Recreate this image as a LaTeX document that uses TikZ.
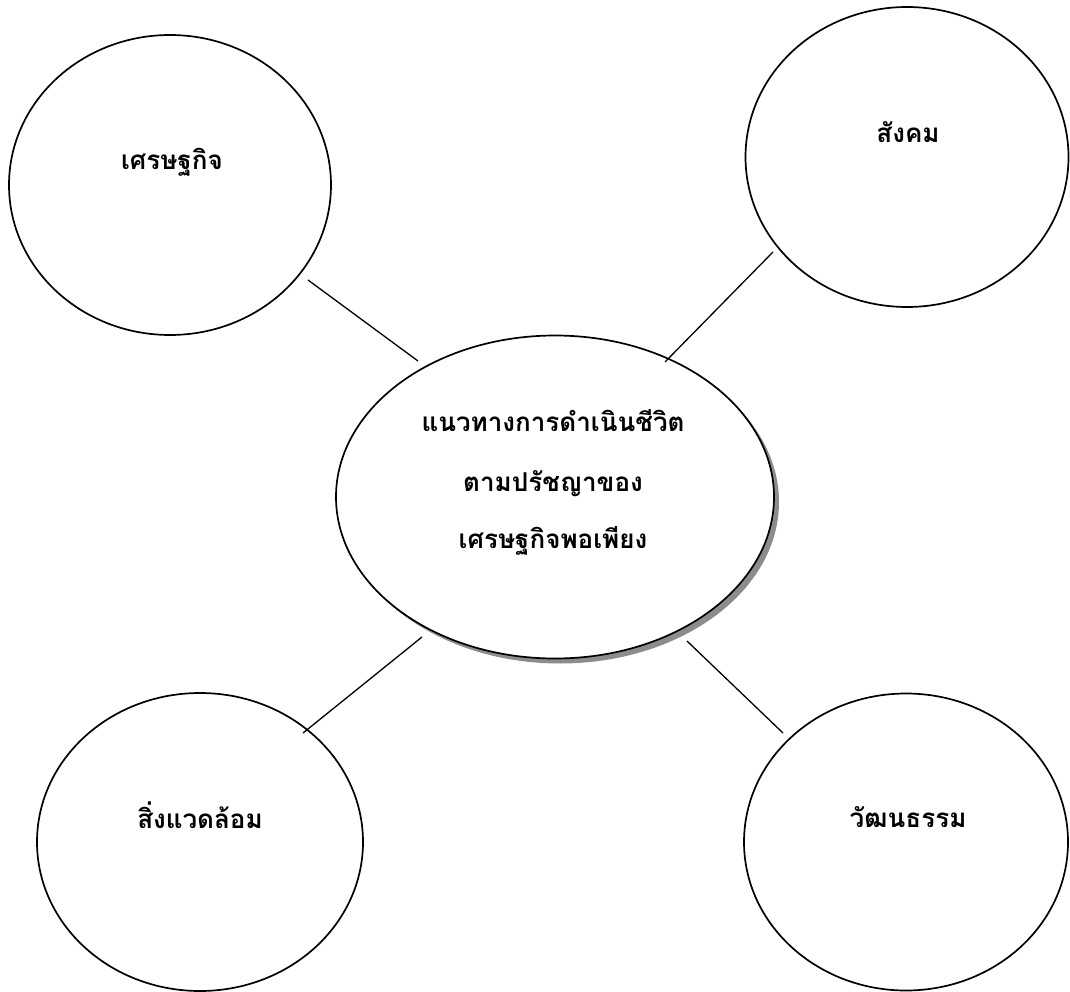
\documentclass[tikz,border=0pt]{standalone}
\usepackage{fontspec}
\newfontfamily\thaifont[Script=Thai]{Loma}
\usetikzlibrary{shapes.geometric,shadows}
\tikzset{
  bubble/.style={draw=black, line width=1.7pt, ellipse, inner sep=0pt, fill=white},
  hub/.style={bubble, drop shadow={shadow xshift=5pt, shadow yshift=-5pt, fill=black!45, opacity=1}},
  label/.style={anchor=base, inner sep=0pt, font=\thaifont\bfseries\fontsize{26}{31}\selectfont},
  link/.style={draw=black, line width=1.3pt}
}
\begin{document}
\begin{tikzpicture}[x=1pt,y=-1pt]
\useasboundingbox (0,0) rectangle (1070,992);
% satellite circles
\node[bubble, minimum width=322pt, minimum height=300pt] (econ) at (170,185) {};
\node[bubble, minimum width=323pt, minimum height=300pt] (soc) at (907,157) {};
\node[bubble, minimum width=326pt, minimum height=298pt] (env) at (200,842) {};
\node[bubble, minimum width=324pt, minimum height=297pt] (cult) at (906,842) {};
% hub
\node[hub, minimum width=438pt, minimum height=323pt] (hub) at (555,497) {};
% labels
\node[label] (econT) at (172,170) {เศรษฐกิจ};
\node[label] (socT) at (908,143) {สังคม};
\node[label] (envT) at (200,828) {สิ่งแวดล้อม};
\node[label] (cultT) at (908,827) {วัฒนธรรม};
\node[label] (hub1) at (553,431) {แนวทางการดำเนินชีวิต};
\node[label] (hub2) at (553,491) {ตามปรัชญาของ};
\node[label] (hub3) at (553,548) {เศรษฐกิจพอเพียง};
% connector end points
\coordinate (e1) at (308,280);
\coordinate (h1) at (418,361);
\coordinate (s1) at (773,252);
\coordinate (h2) at (665,362);
\coordinate (v1) at (303,733);
\coordinate (h3) at (422,637);
\coordinate (c1) at (783,733);
\coordinate (h4) at (687,641);
\draw[link] (e1) -- (h1);
\draw[link] (s1) -- (h2);
\draw[link] (v1) -- (h3);
\draw[link] (c1) -- (h4);
\end{tikzpicture}
\end{document}
